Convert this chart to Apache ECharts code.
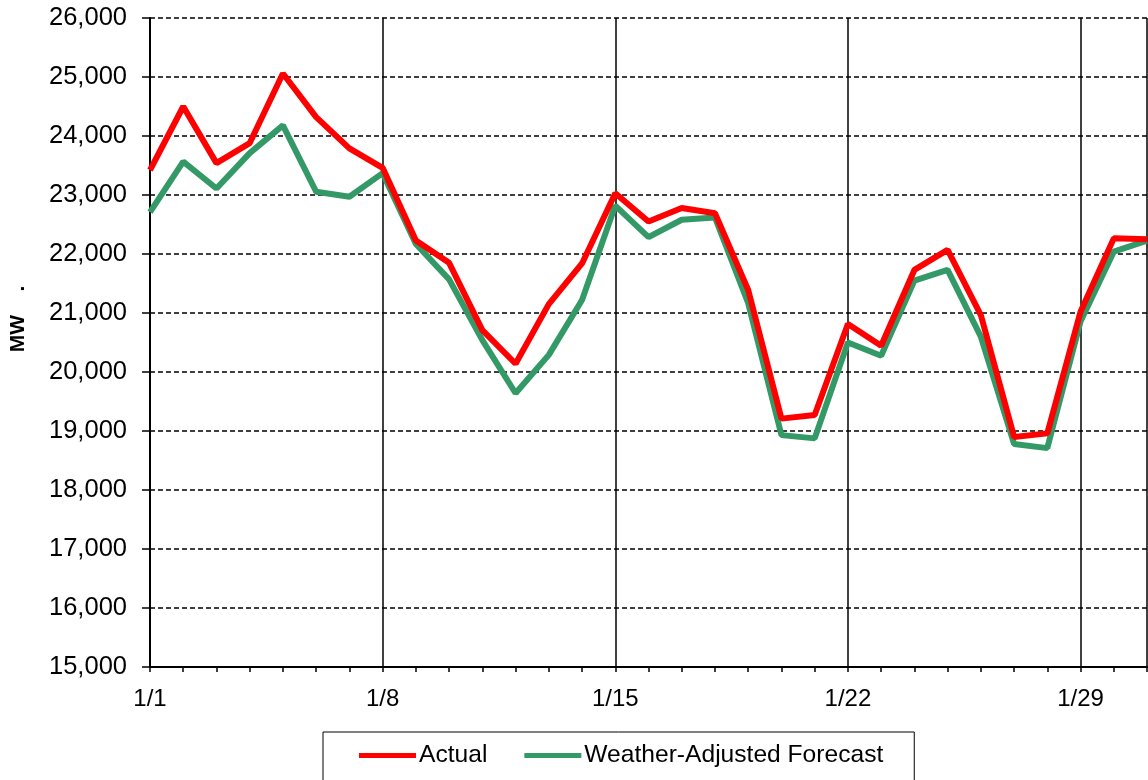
<!DOCTYPE html>
<html>
<head>
<meta charset="utf-8">
<script src="https://cdn.jsdelivr.net/npm/echarts@6/dist/echarts.min.js"></script>
<style>
html,body{margin:0;padding:0;background:#fff;}
#chart{width:1148px;height:780px;}
</style>
</head>
<body>
<div id="chart"></div>
<script>
const categories = ['1/1','1/2','1/3','1/4','1/5','1/6','1/7','1/8','1/9','1/10','1/11','1/12','1/13','1/14','1/15','1/16','1/17','1/18','1/19','1/20','1/21','1/22','1/23','1/24','1/25','1/26','1/27','1/28','1/29','1/30','1/31'];
const actual = [23420,24500,23540,23880,25060,24320,23790,23460,22230,21850,20710,20140,21150,21840,23030,22550,22780,22690,21390,19210,19270,20815,20445,21730,22070,20965,18900,18960,21020,22265,22250];
const forecast = [22710,23565,23110,23710,24180,23055,22970,23370,22170,21570,20540,19640,20290,21220,22820,22285,22580,22620,21165,18930,18875,20500,20275,21550,21730,20600,18780,18710,20855,22040,22225];
const yTicks = {min:15000, max:26000, step:1000};
const seriesNames = ['Actual','Weather-Adjusted Forecast'];
const yTitle = 'MW    .';
const colors = ['#ff0000','#339966'];

const chart = echarts.init(document.getElementById('chart'));
const font = '"Liberation Sans", Arial, sans-serif';
chart.setOption({
  animation:false,
  backgroundColor:'#ffffff',
  grid:{left:150, right:1, top:18, bottom:113, containLabel:false},
  graphic:[{
    type:'text', x:18, y:319, rotation:Math.PI/2,
    style:{text:yTitle, font:'bold 21px "Liberation Sans", Arial, sans-serif', fill:'#000',
      textAlign:'center', textVerticalAlign:'middle'}
  }],
  legend:{
    data:seriesNames,
    top:732, left:323,
    padding:[11,31,40,36],
    borderColor:'#000', borderWidth:1,
    itemWidth:57, itemHeight:5, itemGap:37,
    icon:'rect',
    textStyle:{fontFamily:font, fontSize:24.6, color:'#000', padding:[0,0,0,-2]}
  },
  xAxis:{
    type:'category', data:categories, boundaryGap:false,
    axisLine:{lineStyle:{color:'#000', width:2}},
    axisTick:{show:true, interval:0, length:5, lineStyle:{color:'#000', width:1.5}},
    axisLabel:{interval:6, fontFamily:font, fontSize:24, color:'#000', margin:20},
    splitLine:{show:true, interval:function(i){return i%7===0 || i===30;}, lineStyle:{color:'#000', width:1.5, type:'solid'}}
  },
  yAxis:{
    type:'value', min:yTicks.min, max:yTicks.max, interval:yTicks.step,
    axisLine:{show:true, lineStyle:{color:'#000', width:2}},
    axisTick:{show:true, length:8, lineStyle:{color:'#000', width:1.5}},
    axisLabel:{fontFamily:font, fontSize:25.5, color:'#000', margin:23,
      formatter:function(v){return v.toLocaleString('en-US');}},
    splitLine:{show:true, lineStyle:{color:'#000', width:1.5, type:[5,3]}}
  },
  series:[
    {name:seriesNames[0], type:'line', data:actual, showSymbol:false, symbol:'none',
     lineStyle:{color:colors[0], width:6}, itemStyle:{color:colors[0]}, z:3},
    {name:seriesNames[1], type:'line', data:forecast, showSymbol:false, symbol:'none',
     lineStyle:{color:colors[1], width:6}, itemStyle:{color:colors[1]}, z:2}
  ]
});
</script>
</body>
</html>
